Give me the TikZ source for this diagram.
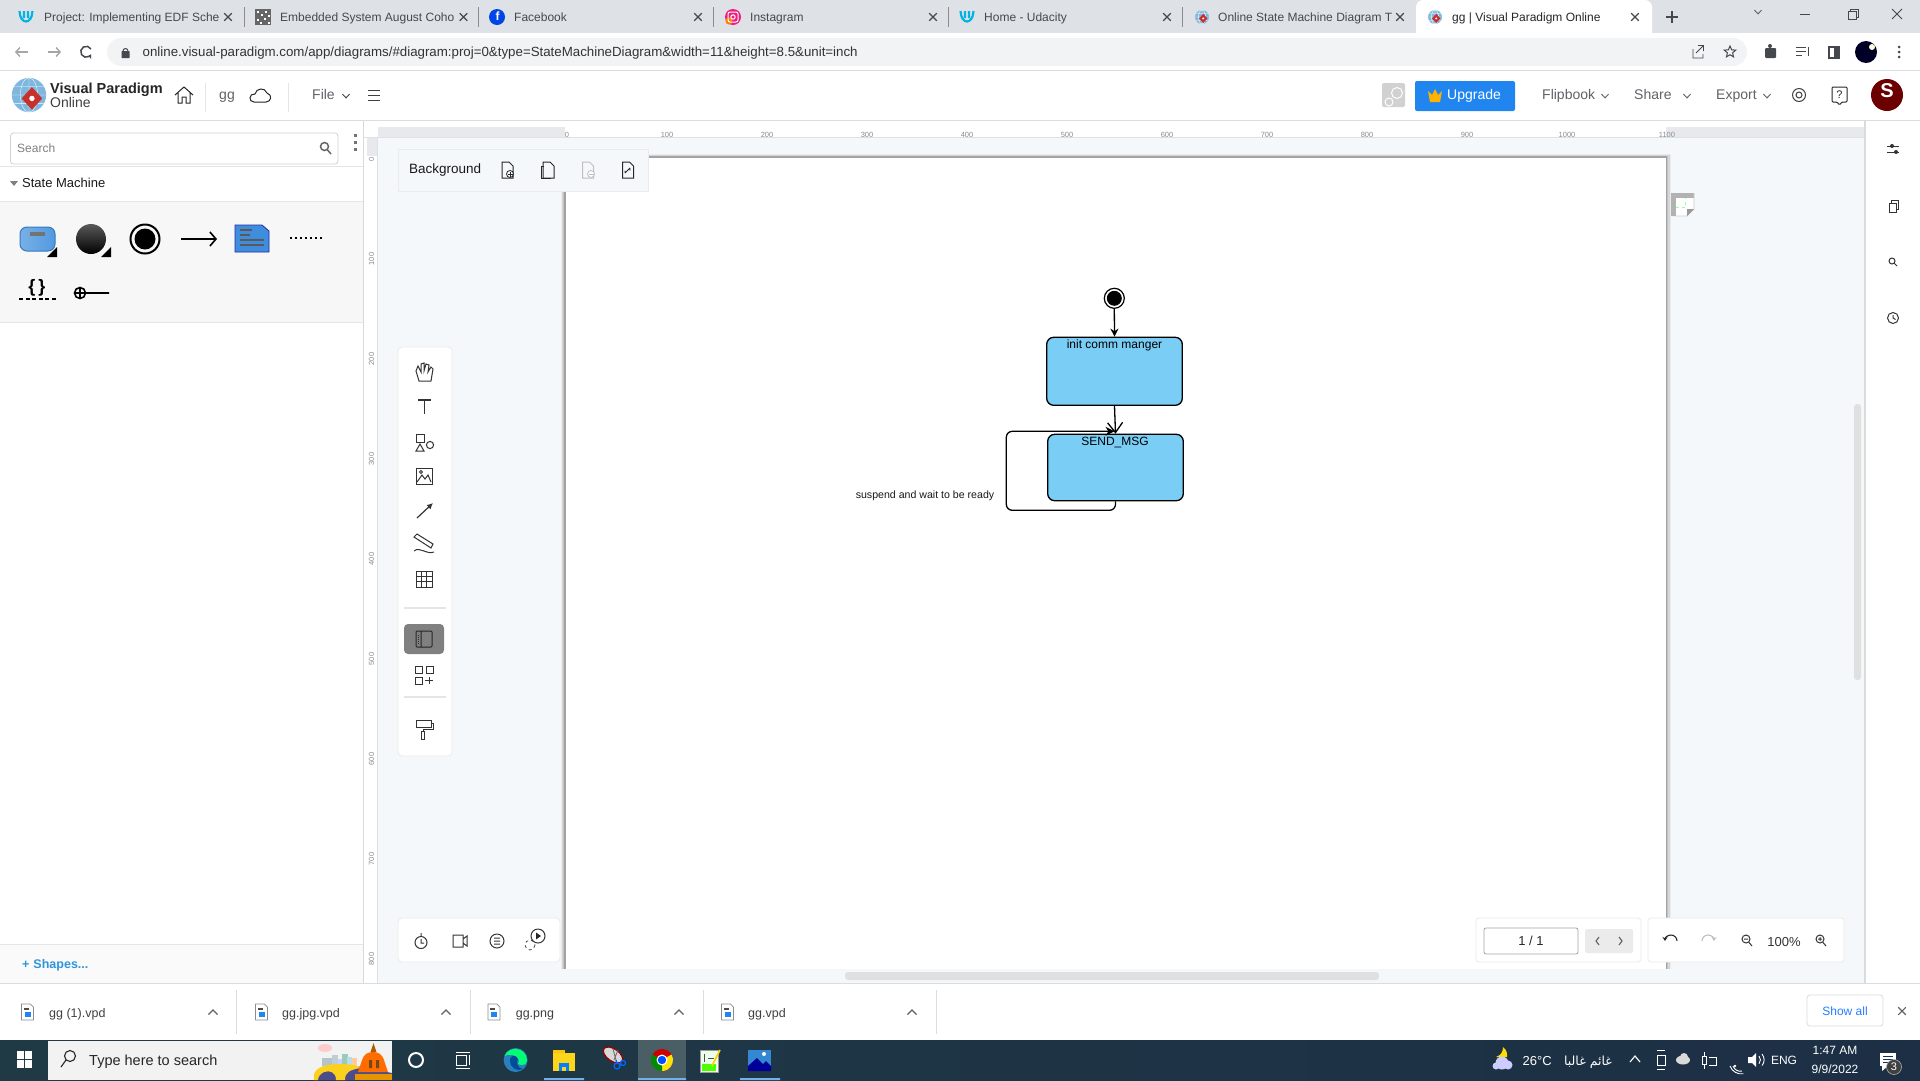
\documentclass[tikz,border=0pt]{standalone}
\usepackage{fontspec}
\setmainfont{Liberation Sans}
\newfontfamily\arabicfont[Script=Arabic]{DejaVu Sans}
\TeXXeTstate=1
\usetikzlibrary{arrows.meta,calc,shapes.geometric}
\definecolor{tabbar}{HTML}{DEE1E6}
\definecolor{addr}{HTML}{F1F3F4}
\definecolor{sep}{HTML}{DADCE0}
\definecolor{tabtxt}{HTML}{45494E}
\definecolor{uigray}{HTML}{5F6368}
\definecolor{canvas}{HTML}{F5F8FA}
\definecolor{shapes}{HTML}{F7F7F7}
\definecolor{panelline}{HTML}{E3E5E7}
\definecolor{stateblue}{HTML}{7ACDF4}
\definecolor{upgrade}{HTML}{2185F0}
\definecolor{rulerg}{HTML}{E8E9EC}
\definecolor{taskL}{HTML}{1F3A45}
\definecolor{taskR}{HTML}{1D2F45}
\definecolor{udblue}{HTML}{02B3E4}
\definecolor{vpred}{HTML}{C8302B}
\definecolor{vpblue}{HTML}{7FB8DE}
\definecolor{noteblue}{HTML}{3F8EDD}
\definecolor{chromehi}{HTML}{4A5E65}
\definecolor{underl}{HTML}{6CB4EA}
\newcommand\fs[1]{\fontsize{#1}{#1}\selectfont}
\newcommand\xmark[3][tabtxt]{\draw[#1,line width=1.1pt,shift={(#2,#3)}] (-3.8,-3.8)--(3.8,3.8) (-3.8,3.8)--(3.8,-3.8);}
\newcommand\chev[3][uigray]{\draw[#1,line width=1pt,shift={(#2,#3)}] (-3.5,-1.8)--(0,1.8)--(3.5,-1.8);}
\newcommand\uda[2]{\draw[udblue,line width=2.2pt,shift={(#1,#2)}] (-6.5,-6)..controls (-6,8) and (6,8)..(6.5,-6) (-2,-6)--(-2,1) (2,-6)--(2,1);}
\newcommand\vplogo[3]{\begin{scope}[shift={(#1,#2)},scale=#3]\fill[vpblue] (0,0) circle[radius=7];\draw[white,line width=.35pt] (0,0) ellipse[x radius=3.5,y radius=7] (-7,0)--(7,0) (-6,-3.5)--(6,-3.5) (-6,3.5)--(6,3.5) (0,-7)--(0,7);\fill[vpred] (1.2,-3.2)--(5.4,1.4)--(1.2,6)--(-3,1.4)--cycle;\fill[white] (1.2,1.4) circle[radius=1.1];\end{scope}}
\newcommand\docic[3][black]{\draw[#1,line width=1pt,shift={(#2,#3)}] (-5,-8)--(2,-8)--(6,-4)--(6,8)--(-5,8)--cycle;}
\newcommand\dlicon[2]{\begin{scope}[shift={(#1,#2)}]\draw[black!45,fill=white,line width=.7pt] (-6,-8)--(3,-8)--(6,-5)--(6,8)--(-6,8)--cycle;\fill[black!70] (-4,-4) rectangle (1,-2);\fill[upgrade] (-3,0) rectangle (3,5);\end{scope}}
\tikzset{
  tx/.style={inner sep=0pt,anchor=west,text=#1,text height=.95em,text depth=.15em},
  tx/.default=black,
  txc/.style={inner sep=0pt,anchor=center,text=#1,text height=.95em,text depth=.15em},
  txc/.default=black,
  tabt/.style={tx=tabtxt,font=\fs{12}},
  rulx/.style={txc=black!45,font=\fs{7.5}},
  ruly/.style={txc=black!45,font=\fs{7.5},rotate=90},
  icon/.style={line width=1pt,black!80},
  panel/.style={fill=white,draw=black!8,line width=.8pt,rounded corners=3pt},
  statebox/.style={draw=black,line width=1.3pt,fill=stateblue,rounded corners=7pt,inner sep=0pt},
  statetxt/.style={inner sep=0pt,anchor=center,font=\fs{12},text=black,text height=.95em,text depth=.15em},
  conn/.style={draw=black,line width=1.3pt},
  pseudo/.style={circle,fill=black,inner sep=0pt,minimum size=15pt}
}
\begin{document}
\begin{tikzpicture}[x=1pt,y=-1pt]
\useasboundingbox (0,0) rectangle (1920,1080);
% base
\fill[white] (0,0) rectangle (1920,1080);
% tab bar
\fill[tabbar] (0,0) rectangle (1920,33);
\fill[white,rounded corners=7pt] (1416,0) rectangle (1652,40);
\fill[white] (1416,33) rectangle (1652,40);
\foreach \x in {244,478,713,948,1182}{\draw[black!45,line width=.8pt] (\x,7)--(\x,27);}
\uda{26}{17}
\begin{scope}[shift={(263,17)}]\fill[black!60] (-8,-8) rectangle (8,8);\foreach \a/\b in {-6/-6,-2/-3,2/-6,5/-2,-6/2,-3/5,1/1,5/5}{\fill[white] (\a,\b) rectangle +(2,2);}\end{scope}
\fill[blue!70!cyan!90!black] (497,17) circle[radius=8];
\node[txc=white,font=\bfseries\fs{12}] (fbf) at (497.5,16.5) {f};
\fill[magenta!80!orange] (733,17) circle[radius=8];
\fill[orange] (729,21) circle[radius=3.5];
\draw[white,line width=1pt,rounded corners=2pt] (728,12) rectangle (738,22);
\draw[white,line width=1pt] (733,17) circle[radius=2.2];
\uda{967}{17}
\vplogo{1202}{17}{1}
\vplogo{1435}{17}{1}
\node[tabt] (tab1) at (44,17) {Project: Implementing EDF Sche};
\node[tabt] (tab2) at (280,17) {Embedded System August Coho};
\node[tabt] (tab3) at (514,17) {Facebook};
\node[tabt] (tab4) at (750,17) {Instagram};
\node[tabt] (tab5) at (984,17) {Home - Udacity};
\node[tabt] (tab6) at (1218,17) {Online State Machine Diagram T};
\node[tabt,text=black!85] (tab7) at (1452,17) {gg | Visual Paradigm Online};
\foreach \x in {228,463.5,698,933,1167,1400,1635}{\xmark{\x}{17}}
\draw[tabtxt,line width=1.4pt] (1666,17)--(1678,17) (1672,11)--(1672,23);
\chev{1758}{12}
\draw[tabtxt,line width=1pt] (1800,14)--(1810,14);
\draw[tabtxt,line width=1pt] (1848,11) rectangle (1856,19) (1850,11)--(1850,9)--(1858,9)--(1858,17)--(1856,17);
\draw[tabtxt,line width=1pt] (1892,9)--(1902,19) (1892,19)--(1902,9);
% address bar
\fill[addr,rounded corners=14pt] (107,38) rectangle (1747,66);
\draw[sep,line width=1pt] (0,70)--(1920,70);
\draw[black!35,line width=1.4pt,-{Straight Barb[length=4pt,width=9pt]}] (28,52)--(15,52);
\draw[black!35,line width=1.4pt,-{Straight Barb[length=4pt,width=9pt]}] (48,52)--(61,52);
\draw[tabtxt,line width=1.5pt,-{Stealth[length=4pt,width=5pt]}] (91,49) arc[start angle=-30,end angle=-330,radius=5.5];
\fill[tabtxt,rounded corners=.5pt] (121.5,51) rectangle (129.5,58);
\draw[tabtxt,line width=1pt] (123,51) arc[start angle=180,end angle=360,radius=2.5];
\node[tx=black!80,font=\fs{13.3}] (url) at (142.5,52) {online.visual-paradigm.com/app/diagrams/\#diagram:proj=0\&type=StateMachineDiagram\&width=11\&height=8.5\&unit=inch};
\draw[tabtxt,line width=.9pt] (1693,49)--(1693,58)--(1703,58)--(1703,54) (1696,53)--(1703,46) (1698,45.5)--(1703.5,45.5)--(1703.5,51);
\node[star,draw=tabtxt,line width=1pt,minimum size=12pt,star point ratio=2.2,inner sep=0pt] (star) at (1730,52) {};
\fill[tabtxt,rounded corners=1pt] (1765,48) rectangle (1776,58);
\fill[tabtxt] (1770,46) circle[radius=2];
\draw[tabtxt,line width=1pt] (1796,47)--(1806,47) (1796,51)--(1806,51) (1796,55)--(1802,55) (1808,47)--(1808,56);
\draw[tabtxt,line width=1.8pt] (1829,47) rectangle (1839,58);
\fill[tabtxt] (1834,47) rectangle (1839,58);
\fill[black!85!blue] (1866,52) circle[radius=11];
\fill[white!85!yellow] (1872,47) circle[radius=3];
\foreach \y in {47,52,57}{\fill[tabtxt] (1899,\y) circle[radius=1.5];}
% app header
\draw[sep,line width=1pt] (0,120.5)--(1920,120.5);
\vplogo{29}{95}{2.45}
\node[tx=black!85,font=\bfseries\fs{14.5}] (vp1) at (50,89) {Visual Paradigm};
\node[tx=black!75,font=\fs{14}] (vp2) at (50,103) {Online};
\draw[black!85,line width=1pt] (175,95)--(184,87)--(193,95) (178,93)--(178,103)--(182,103)--(182,97)--(186,97)--(186,103)--(190,103)--(190,93);
\draw[black!10,line width=1pt] (205,83)--(205,112) (288,83)--(288,112);
\node[txc=uigray,font=\fs{14}] (gg) at (227,95) {gg};
\draw[black!85,line width=1pt] (254,102) .. controls (248,102) and (249,93) .. (255,94) .. controls (256,88) and (265,87) .. (267,93) .. controls (273,95) and (271,102) .. (266,102) -- cycle;
\node[tx=uigray,font=\fs{14}] (file) at (312,95) {File};
\chev[black!75]{346}{96}
\draw[black!75,line width=1pt] (368,90)--(380,90) (368,95)--(380,95) (368,100)--(380,100);
\fill[black!18,rounded corners=2pt] (1382,83) rectangle (1405,107);
\draw[white,line width=1pt] (1397,93) circle[radius=5.5];
\draw[white,line width=1pt] (1389,102) circle[radius=4];
\fill[upgrade,rounded corners=2pt] (1415,81) rectangle (1515,111);
\fill[orange!60!yellow] (1430,102) -- (1428,91) -- (1432,95) -- (1435,89) -- (1438,95) -- (1442,91) -- (1440,102) -- cycle;
\node[txc=white,font=\fs{14}] (upg) at (1474,95) {Upgrade};
\node[tx=uigray,font=\fs{14}] (flip) at (1542,95) {Flipbook};
\chev{1605}{96}
\node[tx=uigray,font=\fs{14}] (share) at (1634,95) {Share};
\chev{1687}{96}
\node[tx=uigray,font=\fs{14}] (export) at (1716,95) {Export};
\chev{1767}{96}
\draw[black!75,line width=1pt] (1799,95) circle[radius=6.5] (1799,95) circle[radius=3];
\draw[black!85,line width=1pt,rounded corners=1pt] (1832,87)--(1847,87)--(1847,102)--(1842,102)--(1839.5,105)--(1837,102)--(1832,102)--cycle;
\node[txc=black!85,font=\fs{11}] (help) at (1839.5,94) {?};
\fill[black!50!red!85!black] (1887,95) circle[radius=16];
\node[txc=white,font=\bfseries\fs{20}] (avS) at (1887,93) {S};
% canvas
\fill[canvas] (364,121) rectangle (1864,983);
% page, soft shadow
\fill[black!8] (560.5,154) rectangle (1670.5,969);
\fill[black!16] (561.5,155) rectangle (1669.5,969);
\fill[black!24] (562.5,155.5) rectangle (1668,969);
\fill[black!36] (563.5,156.2) rectangle (1667,969);
\fill[white] (565.5,157.5) rectangle (1666,969);
% rulers
\fill[white] (363,121) rectangle (1864,137);
\fill[rulerg] (378,127) rectangle (565,137);
\fill[rulerg] (1666,127) rectangle (1864,137);
\fill[white] (363,137) rectangle (377,983);
\fill[rulerg] (367,137) rectangle (377,156);
\draw[black!12,line width=.8pt] (363,137)--(1864,137) (377,137)--(377,983);
\foreach \v/\nm in {0/a,100/b,200/c,300/d,400/e,500/f,600/g,700/h,800/i,900/j,1000/k,1100/l}{\node[rulx] (rx\nm) at ({566+\v+1},133) {\v};}
\foreach \v/\nm in {0/a,100/b,200/c,300/d,400/e,500/f,600/g,700/h,800/i}{\node[ruly] (ry\nm) at (370,{159+\v}) {\v};}
\draw[black!10,line width=.8pt] (363,120)--(363,983);
\fill[black!14] (1864,121) rectangle (1866,983);
% left panel
\fill[white] (0,121) rectangle (363,983);
\draw[black!15,line width=.9pt] (363,121)--(363,983);
\draw[black!18,fill=white,rounded corners=3pt,line width=.8pt] (10.5,133) rectangle (338,164);
\node[tx=black!50,font=\fs{12}] (search) at (17,148.5) {Search};
\draw[black!60,line width=1.5pt] (324.5,146.5) circle[radius=4] (327.5,150)--(331,154);
\foreach \y in {134,141,148}{\fill[black!55] (354,\y) rectangle (357,\y+3);}
\draw[panelline,line width=1pt] (0,166)--(363,166);
\fill[black!50] (10,181)--(18,181)--(14,186)--cycle;
\node[tx=black!90,font=\fs{13}] (sm) at (22,183.5) {State Machine};
\fill[shapes] (0,201) rectangle (363,322);
\draw[panelline,line width=1pt] (0,201)--(363,201) (0,322)--(363,322);
% palette
\draw[noteblue!85!black,line width=1pt,left color=noteblue!70,right color=noteblue!90!white,rounded corners=7pt] (20,227) rectangle (55,251);
\fill[black!55] (30,232) rectangle (45,236);
\fill[black] (47,257)--(57,257)--(57,247)--cycle;
\shade[top color=black!65,bottom color=black] (91,239) circle[radius=15];
\fill[black] (101,257)--(111,257)--(111,247)--cycle;
\draw[black,line width=2pt] (145,239) circle[radius=14.5];
\fill[black] (145,239) circle[radius=10.5];
\draw[black,line width=1.6pt,-{Straight Barb[length=6pt,width=14pt]}] (181,239)--(217,239);
\fill[noteblue,draw=blue!60!black!85,line width=.8pt] (235,225)--(262,225)--(269,231)--(269,252)--(235,252)--cycle;
\draw[black!65,line width=1.1pt] (240,230)--(252,230) (240,235)--(250,235) (240,240)--(264,240) (240,245)--(264,245);
\draw[black,line width=1.4pt,dash pattern=on 1.6pt off 3.4pt] (290,238)--(324,238);
\node[txc=black,font=\bfseries\fs{18}] (brace) at (37,288) {\{\,\}};
\draw[black,line width=1.4pt,dash pattern=on 4pt off 2.6pt] (19,299)--(56,299);
\draw[black,line width=1.6pt] (80,293) circle[radius=5.5] (74.5,293)--(109,293) (80,287.5)--(80,298.5);
\draw[panelline,line width=1pt] (0,944)--(363,944);
\fill[white!98!black] (0,944.5) rectangle (362.5,983);
\node[tx=cyan!70!blue!85,font=\bfseries\fs{12.5}] (shp) at (22,964) {\textbf{+}\hspace{4pt}Shapes...};
% background panel
\fill[canvas,draw=black!8,line width=.8pt] (398.5,149) rectangle (648,191);
\node[tx=black!90,font=\fs{13.5}] (bgt) at (409,169.5) {Background};
\foreach \x/\c in {507/black!85,548/black!85,587.5/black!25,627.5/black!85}{\docic[\c]{\x}{170}}
\draw[black!85,fill=white,line width=.8pt] (510,174) circle[radius=3.5];
\draw[black!85,line width=.8pt] (507.5,174)--(512.5,174) (510,171.5)--(510,176.5);
\draw[black!85,line width=.8pt] (544,166)--(541,166)--(541,178)--(551,178);
\draw[black!25,fill=white,line width=.8pt] (591,174) circle[radius=3.5];
\draw[black!25,line width=.8pt] (588.5,174)--(593.5,174);
\draw[black!85,line width=.8pt] (625,173)--(630,168) (625,173)--(625,170.5) (630,168)--(630,170.5);
% left toolbar
\fill[white,rounded corners=4pt,draw=black!8,line width=.8pt] (398,347) rectangle (452,756);
\begin{scope}[icon]
 \draw (419,381)--(416,371)--(418,366)--(421,372)--(421,364)--(424,363)--(424,371)--(426,364)--(429,365)--(428,372)--(431,367)--(433,369)--(431,381)--cycle;
 \draw[line width=1.3pt] (418,400)--(431,400) (424.5,400)--(424.5,414);
 \draw (416.5,434) rectangle (424.5,442);
 \draw (416,451)--(424,451)--(420,444)--cycle;
 \draw (430,445) circle[radius=3.6];
 \draw (416,468) rectangle (432,484);
 \draw (417,482)--(422,475)--(425,479)--(428,475)--(431,482);
 \draw (421,472) circle[radius=1.5];
 \draw[line width=1.2pt,-{Latex[length=6pt,width=6pt]}] (417,518)--(433,503);
 \draw (414,537)--(417,534)--(433,544)--(431,548)--cycle;
 \draw (414,551) .. controls (420,546) and (426,555) .. (434,552);
 \draw (416,571) rectangle (432,587) (416,576.3)--(432,576.3) (416,581.6)--(432,581.6) (421.3,571)--(421.3,587) (426.6,571)--(426.6,587);
\end{scope}
\draw[black!10,line width=1.2pt] (404,608)--(446,608) (404,697)--(446,697);
\fill[black!50,rounded corners=4pt] (404,624) rectangle (444,654);
\draw[black!85,line width=1pt,rounded corners=1pt] (416,631) rectangle (432,647) (421,631)--(421,647);
\draw[black!85,line width=.7pt,dash pattern=on 1pt off 1pt] (418.5,635)--(418.5,644);
\draw[icon] (415,666) rectangle (422,673) (426,666) rectangle (433,673) (415,677) rectangle (422,684) (425,680.5)--(433,680.5) (429,677)--(429,684);
\draw[icon] (416,720) rectangle (431,727) (431,723.5)--(433,723.5)--(433,729)--(423,729)--(423,731);
\draw[icon] (421.5,731) rectangle (424.5,739);
% bottom toolbar
\fill[white,rounded corners=4pt,draw=black!8,line width=.8pt] (398,918) rectangle (560,962);
\draw[icon] (421,942.5) circle[radius=6] (421,936.5)--(421,933) (421,939)--(421,943)--(424,943);
\draw[icon] (453,935) rectangle (463,947) (463,939)--(467,936)--(467,946)--(463,943);
\draw[icon] (497,941) circle[radius=7] (494,938)--(500,938) (494,941)--(500,941) (494,944)--(500,944);
\draw[icon] (538,936) circle[radius=7];
\fill[black!85] (536,932.5)--(536,939.5)--(541,936)--cycle;
\draw[icon,dashed,line width=.7pt] (530,945) circle[radius=5];
% scrollbars
\fill[black!12,rounded corners=3pt] (845,972) rectangle (1379,980);
\fill[black!12,rounded corners=3pt] (1854,404) rectangle (1861,680);
% right sidebar
\fill[white] (1866,121) rectangle (1920,983);
\draw[icon] (1887,146)--(1899,146) (1887,152)--(1899,152);
\fill[black!80] (1892,146) circle[radius=2] (1896,152) circle[radius=2];
\draw[icon] (1889,203) rectangle (1896,212) (1891,203)--(1891,200)--(1898,200)--(1898,209)--(1896,209);
\draw[icon] (1892,261) circle[radius=3] (1894,263)--(1897,266);
\draw[icon] (1893,318) circle[radius=5.5] (1893,315)--(1893,318)--(1895.5,319.5);
% page thumb icon
\fill[black!30] (1671,193) rectangle (1694,198) (1671,193) rectangle (1676,216);
\fill[white] (1676,198)--(1694,198)--(1694,209)--(1687,216)--(1676,216)--cycle;
\draw[black!20,line width=.8pt] (1676,216)--(1687,216)--(1694,209)--(1694,193);
\fill[black!40] (1687,216)--(1694,209)--(1687,209)--cycle;
\draw[green!40!white,line width=.7pt,dashed] (1676,207.5)--(1685,207.5)--(1685,198);
% page bottom widgets
\fill[white,rounded corners=3pt,draw=black!8,line width=.8pt] (1476,918) rectangle (1641,962);
\fill[white,rounded corners=2pt,draw=black!35,line width=.8pt] (1484,928) rectangle (1578,954);
\node[txc=black!85,font=\fs{13}] (pg) at (1531,941) {1 / 1};
\fill[black!8,rounded corners=2pt] (1585,929) rectangle (1633,953);
\draw[uigray,line width=1.1pt] (1599,937)--(1596,941)--(1599,945) (1619,937)--(1622,941)--(1619,945);
\fill[white,rounded corners=3pt,draw=black!8,line width=.8pt] (1648,918) rectangle (1844,962);
\draw[black!85,line width=1.1pt,-{Stealth[length=4pt,width=5pt]}] (1677,941) arc[start angle=0,end angle=-180,radius=6];
\draw[black!25,line width=1.1pt,-{Stealth[length=4pt,width=5pt]}] (1702,941) arc[start angle=180,end angle=360,radius=6];
\draw[black!80,line width=1pt] (1746,939) circle[radius=4] (1744,939)--(1748,939) (1749,942.5)--(1752,946);
\node[txc=black!80,font=\fs{13}] (zoom) at (1784,942) {100\%};
\draw[black!80,line width=1pt] (1820,939) circle[radius=4] (1818,939)--(1822,939) (1820,937)--(1820,941) (1823,942.5)--(1826,946);
% downloads bar
\fill[white] (0,983) rectangle (1920,1040);
\draw[sep,line width=1pt] (0,983)--(1920,983);
\foreach \x in {27.5,261.5,727.5}{\dlicon{\x}{1012}}
\dlicon{494}{1012}
\node[tx=black!75,font=\fs{12.5}] (dl1) at (49,1013) {gg (1).vpd};
\node[tx=black!75,font=\fs{12.5}] (dl2) at (282,1013) {gg.jpg.vpd};
\node[tx=black!75,font=\fs{12.5}] (dl3) at (515.6,1013) {gg.png};
\node[tx=black!75,font=\fs{12.5}] (dl4) at (748,1013) {gg.vpd};
\foreach \x in {213,446,679,912}{\draw[uigray,line width=1.3pt] (\x-4.5,1014.5)--(\x,1010)--(\x+4.5,1014.5);}
\foreach \x in {236,470,703,936}{\draw[sep,line width=1pt] (\x,990)--(\x,1034);}
\fill[white,rounded corners=3pt,draw=sep,line width=.8pt] (1807,995) rectangle (1883,1026);
\node[txc=blue!60!cyan!85,font=\fs{12}] (showall) at (1845,1011) {Show all};
\xmark[uigray]{1902}{1011}
% taskbar
\shade[left color=taskL,right color=taskR] (0,1040) rectangle (1920,1080);
\fill[white!95!black] (48,1041) rectangle (392,1080);
\foreach \a/\b in {17/1051,25/1051,17/1060,25/1060}{\fill[white] (\a,\b) rectangle +(7,8);}
\draw[black!85,line width=1.1pt] (70,1056) circle[radius=5.5] (66,1060)--(61,1067);
\node[tx=black!85,font=\fs{14.5}] (type) at (89,1061) {Type here to search};
% search illustration
\fill[red!20!white] (325,1048) ellipse[x radius=7,y radius=4];
\fill[cyan!35!black!35] (322,1058) rectangle (332,1066);
\fill[cyan!40!black!30] (332,1055) rectangle (338,1066);
\fill[blue!20!white] (338,1059) rectangle (344,1066);
\fill[green!40!cyan!50!black!40] (342,1054) rectangle (348,1066);
\fill[black!30!cyan!30] (347,1057) rectangle (352,1066);
\fill[orange!40!white] (352,1058) rectangle (357,1066);
\fill[blue!35!black!70] (314,1080) -- (326,1066) -- (356,1066) -- (392,1073) -- (392,1080) -- cycle;
\fill[yellow!65!orange!90!white] (314,1080) .. controls (312,1070) and (320,1064) .. (340,1064) .. controls (352,1064) and (360,1066) .. (360,1068) .. controls (350,1070) and (345,1072) .. (345,1080) -- (336,1080) .. controls (336,1072) and (330,1070) .. (324,1072) .. controls (320,1074) and (318,1077) .. (318,1080) -- cycle;
\fill[orange!85!red] (358,1072) -- (362,1060) .. controls (364,1054) and (368,1052) .. (373,1052) .. controls (378,1052) and (382,1054) .. (384,1060) -- (388,1072) -- cycle;
\fill[orange!70!black] (370.5,1052) -- (373.5,1043) -- (376.5,1052) -- cycle;
\fill[orange!40!black!90] (369,1060) rectangle (372,1068) (376,1060) rectangle (379,1068);
\fill[orange!70!yellow!90!black] (355,1074) rectangle (392,1080);
% task buttons
\draw[white,line width=2pt] (416,1060) circle[radius=7];
\draw[white,line width=1pt] (456,1052)--(470,1052) (456,1068)--(470,1068) (456,1055) rectangle (466,1065) (469,1055)--(469,1065);
\fill[cyan!70!blue!85!black] (515.6,1060) circle[radius=12];
\fill[green!55!cyan] (504.5,1056) .. controls (508,1046) and (526,1046) .. (527,1060) .. controls (527,1065) and (522,1066) .. (518,1064) .. controls (522,1058) and (512,1052) .. (504.5,1056) -- cycle;
\fill[blue!50!cyan!60!black] (510,1060) .. controls (510,1055) and (516,1054) .. (518,1059) .. controls (516,1062) and (517,1068) .. (523,1069) .. controls (517,1072) and (510,1068) .. (510,1060) -- cycle;
\fill[yellow!60!orange] (553,1050) rectangle (565,1055);
\fill[yellow!70!orange!90!white] (553,1053) rectangle (575,1071);
\fill[blue!50!cyan] (559,1063) rectangle (569,1071);
\fill[yellow!70!orange!90!white] (562,1067) rectangle (566,1071);
\draw[red!60!black,line width=1.2pt,fill=white!85!black,rotate around={-35:(613,1055)}] (613,1055) ellipse[x radius=11,y radius=6];
\draw[black!60,line width=.8pt] (613,1049)--(616,1060) (618,1050)--(614,1060);
\draw[blue!60!cyan,line width=1.3pt] (617,1066) circle[radius=3] (623,1063) circle[radius=2.5] (616,1060)--(617,1063);
\fill[chromehi] (638,1040) rectangle (686,1080);
\fill[red!80!black] (662,1060) -- +(210:11) arc[start angle=210,end angle=330,radius=11] -- cycle;
\fill[yellow!85!orange] (662,1060) -- +(330:11) arc[start angle=330,end angle=450,radius=11] -- cycle;
\fill[green!55!black] (662,1060) -- +(90:11) arc[start angle=90,end angle=210,radius=11] -- cycle;
\fill[white] (662,1060) circle[radius=5.5];
\fill[blue!70!cyan] (662,1060) circle[radius=4.2];
\fill[white!92!green,draw=black!40,line width=.6pt] (700,1050) rectangle (718,1072);
\fill[green!70!yellow] (702,1064) rectangle (716,1071);
\draw[black!70,line width=1pt] (704,1054)--(704,1062) (708,1058)--(714,1058);
\draw[yellow!70!orange,line width=1.6pt] (712,1066)--(720,1050);
\fill[cyan!60!blue!85] (748,1050) rectangle (771,1071);
\fill[blue!60!black] (748,1071)--(748,1066)--(757,1058)--(763,1064)--(766,1061)--(771,1066)--(771,1071)--cycle;
\fill[white] (764,1054) circle[radius=2];
\fill[underl] (544,1078) rectangle (584,1080) (638,1078) rectangle (686,1080) (740,1078) rectangle (780,1080);
% tray
\fill[yellow!80!orange] (1503,1047) .. controls (1508,1051) and (1507,1055) .. (1507,1057) -- (1496,1057) .. controls (1501,1055) and (1503,1052) .. (1503,1047) -- cycle;
\fill[white!80!blue] (1502,1063) circle[radius=6.5] (1508,1065) circle[radius=4.5] (1496,1066) circle[radius=3.5];
\node[tx=white,font=\fs{13}] (temp) at (1522.5,1061) {26°C};
\node[txc=white,font=\arabicfont\fs{12.5}] (ar) at (1588,1061) {\beginR غائم غالبا\endR};
\draw[white,line width=1.1pt] (1630,1062)--(1635,1056)--(1640,1062);
\draw[white,line width=1pt] (1657,1055) rectangle (1665,1065) (1657,1050)--(1665,1050) (1657,1069)--(1665,1069);
\fill[white!85!black] (1683,1060) ellipse[x radius=7,y radius=4.5];
\fill[white!85!black] (1684,1057) circle[radius=4];
\draw[white,line width=1pt] (1702,1056) rectangle (1706,1064) (1704,1052)--(1704,1056) (1704,1064)--(1704,1069) (1709,1057)--(1716,1057)--(1716,1065)--(1709,1065);
\draw[white,line width=.9pt] (1730,1066) arc[start angle=160,end angle=80,radius=12] (1733,1066) arc[start angle=160,end angle=80,radius=8];
\fill[white] (1735,1066) circle[radius=1.3];
\fill[white] (1748,1057)--(1752,1057)--(1756,1053)--(1756,1067)--(1752,1063)--(1748,1063)--cycle;
\draw[white,line width=.9pt] (1759,1056) arc[start angle=-40,end angle=40,radius=6] (1762,1054) arc[start angle=-40,end angle=40,radius=9];
\node[txc=white,font=\fs{12}] (eng) at (1784,1060) {ENG};
\node[txc=white,font=\fs{12}] (tm) at (1835,1050) {1:47 AM};
\node[txc=white,font=\fs{12}] (dt) at (1835,1069) {9/9/2022};
\fill[white] (1880,1053) rectangle (1896,1066);
\fill[white] (1882,1066)--(1888,1066)--(1882,1071)--cycle;
\draw[taskR,line width=1pt] (1883,1056)--(1893,1056) (1883,1059)--(1893,1059) (1883,1062)--(1890,1062);
\fill[black!75,draw=white!70!black,line width=.6pt] (1894,1067) circle[radius=7.5];
\node[txc=white,font=\fs{11}] (notif) at (1894,1066.5) {3};
% ===== diagram =====
\draw[black,line width=1.2pt] (1114.3,298.3) circle[radius=10];
\node[pseudo] (ini) at (1114.3,298.3) {};
\node[statebox,minimum width=135.6pt,minimum height=68pt] (st1) at (1114.5,371.3) {};
\node[statebox,minimum width=135.6pt,minimum height=66.4pt] (st2) at (1115.5,467.5) {};
\node[statetxt] (st1t) at (1114.5,344.7) {init comm manger};
\node[statetxt] (st2t) at (1115,441.5) {SEND\_MSG};
\coordinate (initop) at (1114.3,308.5);
\coordinate (lpbl) at (1006.3,510.3);
\coordinate (lpend) at (1114.5,431.3);
\draw[conn,-{Stealth[length=8pt,width=8pt]}] (initop)--(st1.north);
\draw[conn,-{Straight Barb[length=10pt,width=15pt]}] (st1.south)--(st2.north);
\draw[conn,rounded corners=6pt,-{Stealth[length=9pt,width=9pt]}] (st2.south) |- (lpbl) |- (lpend);
\node[txc=black!90,font=\fs{10.6}] (lbl) at (925,494) {suspend and wait to be ready};
\end{tikzpicture}
\end{document}
